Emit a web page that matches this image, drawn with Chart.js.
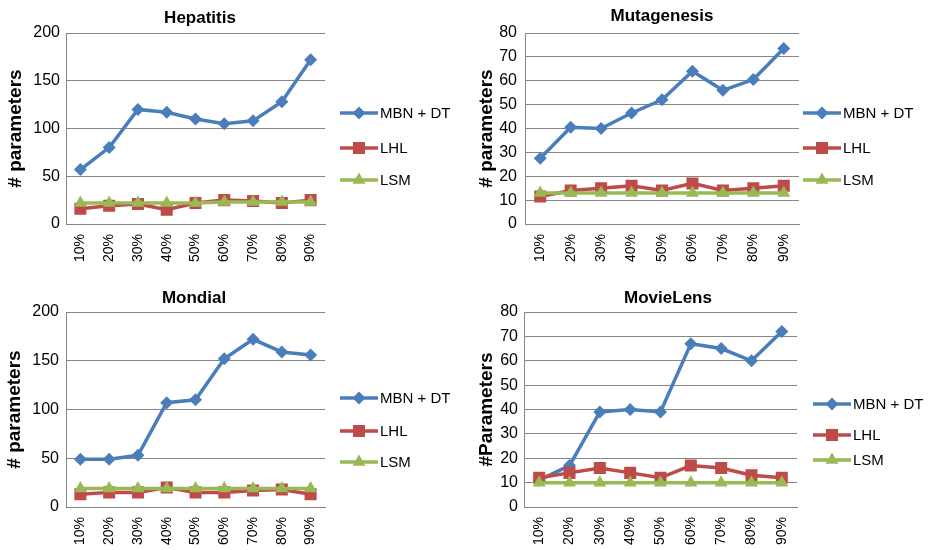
<!DOCTYPE html>
<html>
<head>
<meta charset="utf-8">
<script src="https://cdn.jsdelivr.net/npm/chart.js@4.4.1/dist/chart.umd.min.js"></script>
<style>
  body { margin: 0; background: #fff; }
  #wrap { position: relative; width: 931px; height: 550px; }
  canvas { position: absolute; }
</style>
</head>
<body>
<div id="wrap">
  <canvas id="hep" width="465" height="275" style="left:0;top:0"></canvas>
  <canvas id="mut" width="466" height="275" style="left:465px;top:0"></canvas>
  <canvas id="mon" width="465" height="275" style="left:0;top:275px"></canvas>
  <canvas id="mov" width="466" height="275" style="left:465px;top:275px"></canvas>
</div>
<script>
const pctLabels = ['10%', '20%', '30%', '40%', '50%', '60%', '70%', '80%', '90%']
const seriesNames = ['MBN + DT', 'LHL', 'LSM']

const hepatitisMbn = [57, 80, 120, 117, 110, 105, 108, 128, 172]
const hepatitisLhl = [16, 19, 21, 15, 22, 25, 24, 22, 25]
const hepatitisLsm = [22, 22, 22, 22, 22, 23, 23, 23, 23]

const mutagenesisMbn = [27.5, 40.5, 40, 46.5, 52, 64, 56, 60.5, 73.5]
const mutagenesisLhl = [11.5, 14, 15, 16, 14, 17, 14, 15, 16]
const mutagenesisLsm = [13, 13, 13, 13, 13, 13, 13, 13, 13]

const mondialMbn = [49, 49, 53, 107, 110, 152, 172, 159, 156]
const mondialLhl = [13, 15, 15, 20, 15, 15, 17, 18, 13]
const mondialLsm = [19, 19, 19, 19, 19, 19, 19, 19, 19]

const movieLensMbn = [11, 17, 39, 40, 39, 67, 65, 60, 72]
const movieLensLhl = [12, 14, 16, 14, 12, 17, 16, 13, 12]
const movieLensLsm = [10, 10, 10, 10, 10, 10, 10, 10, 10]

const FONT = '"Liberation Sans", Arial, sans-serif'
const colors = ['#4A7EBB', '#BE4B48', '#98B954']
const styles = ['rectRot', 'rect', 'triangle']
const radii = [6.5, 8.5, 7.5]

function drawMarker(ctx, style, x, y, r, color) {
    ctx.fillStyle = color
    ctx.beginPath()
    if (style === 'rectRot') {
        ctx.moveTo(x, y - r); ctx.lineTo(x + r, y); ctx.lineTo(x, y + r); ctx.lineTo(x - r, y)
    } else if (style === 'rect') {
        const s = r * Math.SQRT1_2
        ctx.rect(x - s, y - s, 2 * s, 2 * s)
    } else {
        const h = r * 0.866
        ctx.moveTo(x, y - r); ctx.lineTo(x + h, y + r / 2); ctx.lineTo(x - h, y + r / 2)
    }
    ctx.closePath()
    ctx.fill()
}

// title + legend drawn at fixed spots, like the Excel layout
const decor = {
    id: 'decor',
    afterDraw(chart, args, o) {
        const ctx = chart.ctx
        ctx.save()
        ctx.fillStyle = '#000'
        ctx.font = 'bold 17px ' + FONT
        ctx.textAlign = 'center'
        ctx.textBaseline = 'middle'
        ctx.fillText(o.title, o.titleX, o.titleY)
        ctx.font = '15px ' + FONT
        ctx.textAlign = 'left'
        chart.data.datasets.forEach((ds, i) => {
            const y = o.legendYs[i]
            ctx.strokeStyle = colors[i]
            ctx.lineWidth = 3.5
            ctx.beginPath()
            ctx.moveTo(o.legendX, y)
            ctx.lineTo(o.legendX + 38, y)
            ctx.stroke()
            drawMarker(ctx, styles[i], o.legendX + 19, y, radii[i], colors[i])
            ctx.fillStyle = '#000'
            ctx.fillText(ds.label, o.legendX + 40, y + 1)
        })
        ctx.restore()
    }
}

function makePanel(id, cfg) {
    const canvas = document.getElementById(id)
    const W = canvas.width, H = canvas.height
    const sets = [cfg.mbn, cfg.lhl, cfg.lsm]
    return new Chart(canvas, {
        type: 'line',
        data: {
            labels: pctLabels,
            datasets: sets.map((d, i) => ({
                label: seriesNames[i],
                data: d,
                borderColor: colors[i],
                backgroundColor: colors[i],
                borderWidth: 3.5,
                pointStyle: styles[i],
                pointRadius: radii[i],
                pointBorderWidth: 0,
                tension: 0,
                order: 3 - i,
            }))
        },
        options: {
            responsive: false,
            animation: false,
            layout: { padding: { left: 0, top: cfg.area[2], right: W - cfg.area[1], bottom: 0 } },
            plugins: {
                legend: { display: false },
                tooltip: { enabled: false },
                decor: {
                    title: cfg.title, titleX: cfg.titleX, titleY: cfg.titleY,
                    legendX: cfg.legendX, legendYs: cfg.legendYs,
                }
            },
            scales: {
                x: {
                    offset: true,
                    grid: { display: false, drawTicks: false },
                    border: { display: true, color: '#868686' },
                    ticks: { minRotation: 90, maxRotation: 90, padding: 10, color: '#000', font: { family: FONT, size: 14 } },
                    afterFit: (s) => { s.height = H - cfg.area[3] }
                },
                y: {
                    min: 0,
                    max: cfg.yMax,
                    grid: { color: '#868686', drawTicks: false },
                    border: { display: true, color: '#868686' },
                    ticks: { stepSize: cfg.yStep, padding: cfg.tickPad, color: '#000', font: { family: FONT, size: 16 } },
                    title: {
                        display: true, text: cfg.yTitle, color: '#000',
                        font: { family: FONT, size: 19, weight: 'bold' },
                        padding: { top: cfg.yTitlePad, bottom: 0 }
                    },
                    afterFit: (s) => { s.width = cfg.area[0] }
                }
            }
        },
        plugins: [decor]
    })
}

makePanel('hep', {
    title: 'Hepatitis', titleX: 200, titleY: 18, yTitle: '# parameters', yTitlePad: 4, tickPad: 6,
    yMax: 200, yStep: 50, area: [66, 325, 33, 224],
    legendX: 340, legendYs: [113, 148, 180],
    mbn: hepatitisMbn, lhl: hepatitisLhl, lsm: hepatitisLsm
})
makePanel('mut', {
    title: 'Mutagenesis', titleX: 197, titleY: 16, yTitle: '# parameters', yTitlePad: 10, tickPad: 8,
    yMax: 80, yStep: 10, area: [60, 334, 33, 224],
    legendX: 338, legendYs: [113, 148, 180],
    mbn: mutagenesisMbn, lhl: mutagenesisLhl, lsm: mutagenesisLsm
})
makePanel('mon', {
    title: 'Mondial', titleX: 194, titleY: 23, yTitle: '# parameters', yTitlePad: 3, tickPad: 7,
    yMax: 200, yStep: 50, area: [66, 325, 37, 232],
    legendX: 340, legendYs: [123, 156, 187],
    mbn: mondialMbn, lhl: mondialLhl, lsm: mondialLsm
})
makePanel('mov', {
    title: 'MovieLens', titleX: 203, titleY: 23, yTitle: '#Parameters', yTitlePad: 10, tickPad: 6,
    yMax: 80, yStep: 10, area: [59, 332, 37, 232],
    legendX: 348, legendYs: [129, 160, 185],
    mbn: movieLensMbn, lhl: movieLensLhl, lsm: movieLensLsm
})
</script>
</body>
</html>
